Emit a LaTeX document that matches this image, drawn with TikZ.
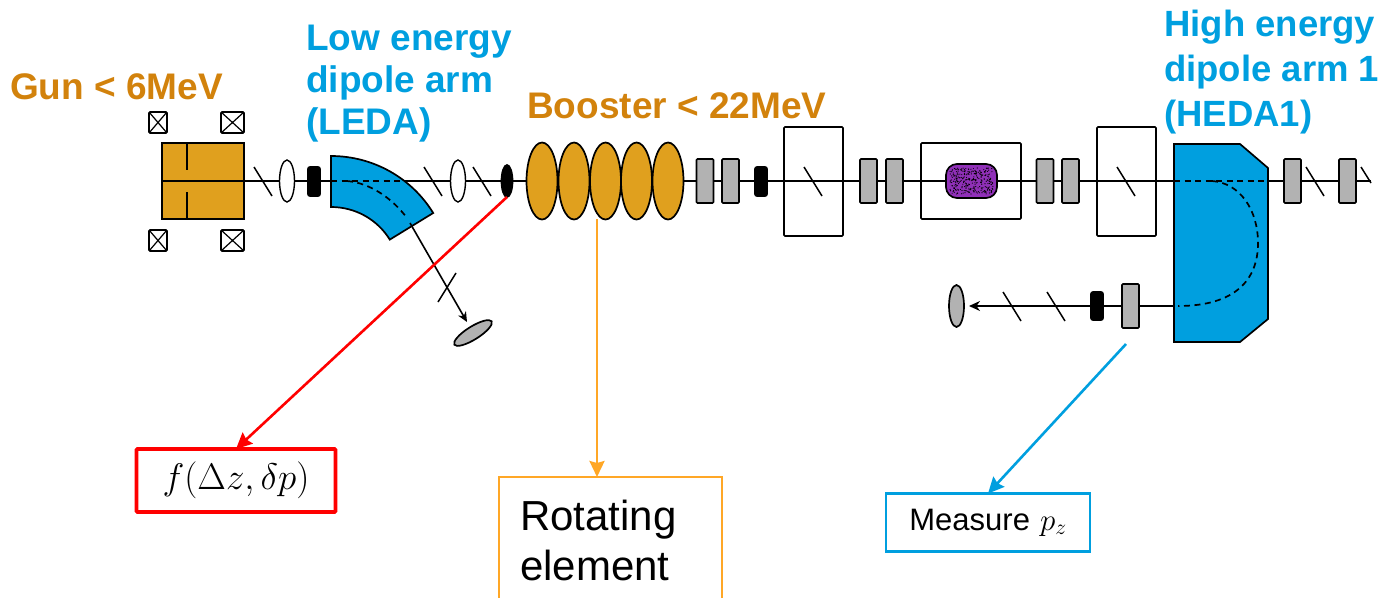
\documentclass[tikz,border=0pt]{standalone}
\usepackage{fix-cm}
\usepackage{fontspec}
\setmainfont{Liberation Sans}
\usepackage{tikz}
\usepackage{xcolor}
\usetikzlibrary{arrows.meta,shapes.geometric}
\definecolor{gunfill}{HTML}{E0A01E}
\definecolor{titleorange}{HTML}{D2820C}
\definecolor{dipoleblue}{HTML}{009FDF}
\definecolor{linkorange}{HTML}{FFA726}
\definecolor{cavitypurple}{HTML}{9030B8}
\definecolor{screengray}{HTML}{B2B2B2}
\tikzset{
  elem/.style={draw=black,line width=1.7pt,inner sep=0pt,outer sep=0pt,rounded corners=1pt},
  solbox/.style={elem,minimum width=#1,minimum height=21pt,
    path picture={\draw[line width=1.2pt] (path picture bounding box.north west) -- (path picture bounding box.south east)
      (path picture bounding box.north east) -- (path picture bounding box.south west);}},
  quad/.style={elem,fill=screengray,minimum width=17pt,minimum height=44pt},
  corrector/.style={elem,fill=black,minimum width=12pt,minimum height=29pt,rounded corners=2pt},
  lens/.style={elem,line width=1.4pt,ellipse,fill=white,minimum width=15pt,minimum height=42pt},
  cavity/.style={elem,ellipse,fill=gunfill,minimum width=31pt,minimum height=77pt},
  chamber/.style={elem,minimum width=#1},
  title/.style={font=\bfseries\fontsize{37}{42}\selectfont,anchor=west,align=left,inner sep=0pt},
  note/.style={line width=2.3pt,fill=white,inner sep=0pt,outer sep=0pt},
  tickmark/.style={line width=1.5pt},
  beamdash/.style={line width=1.7pt,dash pattern=on 6pt off 4.5pt}
}
\begin{document}
\begin{tikzpicture}[x=1pt,y=-1pt,>={Stealth[length=16pt,width=15pt,inset=2pt]}]
  \clip (0,0) rectangle (1383,597);
  % labels
  \node[title,text=titleorange] (gunlabel) at (10,87) {Gun < 6MeV};
  \node[title,text=dipoleblue] (ledalabel) at (306,83.5) {Low energy\\dipole arm\\(LEDA)};
  \node[title,text=titleorange] (boosterlabel) at (527,106) {Booster < 22MeV};
  \node[title,text=dipoleblue,font=\bfseries\fontsize{36.5}{45}\selectfont] (hedalabel) at (1164,72.5) {High energy\\dipole arm 1\\(HEDA1)};
  % gun
  \node[elem,fill=gunfill,minimum width=82pt,minimum height=76pt,rounded corners=0pt] (gun) at (203,181) {};
  \draw[line width=1.5pt] (gun.north -| 187,0) -- (187,170);
  \draw[line width=1.5pt] (gun.south -| 187,0) -- (187,192);
  \node[solbox=18pt] (sola) at (158,122.5) {};
  \node[solbox=23pt] (solb) at (232.5,122.5) {};
  \node[solbox=18pt] (solc) at (158,240.5) {};
  \node[solbox=23pt] (sold) at (232.5,240.5) {};
  % beam line
  \coordinate (beamstart) at (161,181);
  \coordinate (beamend) at (1371,181);
  \draw[line width=1.6pt] (beamstart) -- (beamend);
  % ticks on the line
  \foreach \x in {263,433,482,813,1126,1315}
    \draw[tickmark] (\x-9,167) -- (\x+9,196);
  \draw[tickmark] (1361,167) -- (1371,183);
  % lenses and correctors
  \node[lens] (lensa) at (287,181) {};
  \node[lens] (lensb) at (458,181) {};
  \node[corrector] (cora) at (314,181.5) {};
  \node[elem,ellipse,fill=black,minimum width=11pt,minimum height=32pt] (kick) at (507,181) {};
  \node[corrector] (corb) at (761,181.5) {};
  % low energy dipole
  \draw[elem,fill=dipoleblue,rounded corners=0pt] (331,156) .. controls (372.7,156) and (411.4,177.5) .. (433.2,213)
    -- (389.8,239.6) .. controls (377.2,219.2) and (355,207) .. (331,207) -- cycle;
  \draw[beamdash] (331,181) -- (405,181);
  \draw[beamdash] (347,181) .. controls (370,183) and (392,198) .. (407,218);
  \coordinate (ledaexit) at (410,223);
  \node[elem,ellipse,fill=screengray,minimum width=44pt,minimum height=13pt,rotate=32] (screena) at (473,333) {};
  \coordinate (screenatip) at (467,322);
  \draw[-{Stealth[length=10pt,width=9pt]},line width=1.6pt] (ledaexit) -- (screenatip);
  \draw[tickmark] (438,302) -- (456,273);
  % booster
  \foreach \n/\x in {1/542,2/574,3/605.5,4/636.5,5/668}
    \node[cavity] (boo\n) at (\x,181) {};
  % quadrupoles
  \foreach \n/\x in {1/705,2/730.5,3/868.5,4/894.5,5/1045,6/1070.5,7/1292.5,8/1347.5}
    \node[quad] (quad\n) at (\x,181) {};
  % chambers
  \node[chamber=59pt,minimum height=109pt] (cham1) at (813.5,181.5) {};
  \node[chamber=100pt,minimum height=76pt] (cham2) at (971,181) {};
  \node[chamber=59pt,minimum height=109pt] (cham3) at (1126.5,181.5) {};
  \node[elem,fill=cavitypurple,minimum width=51pt,minimum height=34pt,rounded corners=11pt] (cell) at (971.5,181) {};
  \pgfmathsetseed{7}
  \foreach \i in {1,...,300}
    \fill ({950+43*rnd},{168+26*rnd}) circle (0.6);
  % return line
  \coordinate (hedaexit) at (1174,306);
  \node[elem,ellipse,fill=screengray,minimum width=15pt,minimum height=42pt] (screenb) at (956.5,306) {};
  \coordinate (screenbtip) at (969,306);
  \draw[-{Stealth[length=11pt,width=10pt]},line width=1.6pt] (hedaexit) -- (screenbtip);
  \foreach \x in {1012,1056}
    \draw[tickmark] (\x-9,292) -- (\x+9,321);
  \node[corrector,minimum height=28pt] (corc) at (1097,306) {};
  \node[quad] (quad9) at (1130.5,306) {};
  % high energy dipole
  \draw[elem,fill=dipoleblue,rounded corners=0pt] (1174,144) -- (1240,144) -- (1268,168) -- (1268,319) -- (1240,342) -- (1174,342) -- cycle;
  \draw[beamdash] (1174,181) -- (1268,181);
  \draw[beamdash] (1212,181) .. controls (1240,183) and (1258,210) .. (1258,243)
    .. controls (1258,280) and (1235,306) .. (1178,306);
  % notes
  \node[note,draw=red,line width=3.6pt,minimum width=199pt,minimum height=63pt,rounded corners=1pt,font=\fontsize{37}{40}\selectfont] (distbox) at (236,480.5) {\raisebox{-2pt}{$f(\Delta z,\delta p)$}};
  \node[note,draw=linkorange,minimum width=223pt,minimum height=126pt,anchor=north west] (rotbox) at (499,477) {};
  \node[anchor=west,inner sep=0pt,font=\fontsize{42}{50}\selectfont,align=left] (rottext) at (520,540) {Rotating\\element};
  \node[note,draw=dipoleblue,minimum width=204pt,minimum height=58pt,font=\fontsize{31}{34}\selectfont] (measbox) at (988,522.5) {\raisebox{-3pt}{Measure\kern10pt$p_z$}};
  % arrows to the notes
  \coordinate (boosterfoot) at (597,219);
  \coordinate (measpoint) at (1126,344);
  \draw[->,red,line width=2.6pt] (kick.south) -- (distbox.north);
  \draw[->,linkorange,line width=2.6pt] (boosterfoot) -- (boosterfoot |- rotbox.north);
  \draw[->,dipoleblue,line width=2.6pt] (measpoint) -- (measbox.north);
\end{tikzpicture}
\end{document}
